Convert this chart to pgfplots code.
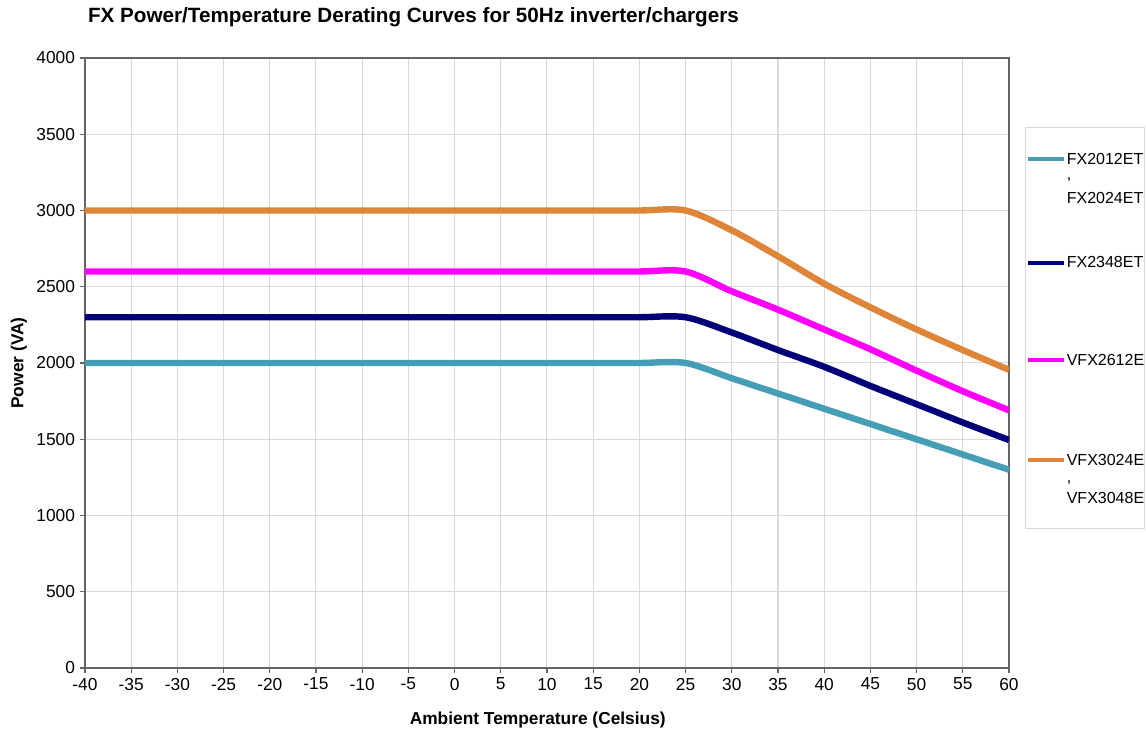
\documentclass[border=0pt]{standalone}
\usepackage{pgfplots}
\pgfplotsset{compat=1.18}
\usepackage{fontspec}
\setmainfont{Liberation Sans}

\definecolor{cteal}{RGB}{70,158,182}
\definecolor{cnavy}{RGB}{0,0,120}
\definecolor{cmag}{RGB}{255,0,255}
\definecolor{corange}{RGB}{222,133,58}
\definecolor{cgrid}{RGB}{217,217,217}
\definecolor{caxis}{RGB}{100,100,100}

\begin{document}
\begin{tikzpicture}
% page = 1146 x 738 px at 0.75pt/px, plot area at (85,58)-(1009,668)
\useasboundingbox (-63.75pt,-52.5pt) rectangle (795.75pt,501pt);
\begin{axis}[
  scale only axis,
  width=693pt, height=457.5pt,
  xmin=-40, xmax=60, ymin=0, ymax=4000,
  xtick={-40,-35,...,60}, ytick={0,500,...,4000},
  grid=major, major grid style={cgrid, line width=0.75pt},
  axis line style={caxis, line width=0.9pt},
  tick style={caxis, line width=0.9pt},
  tick align=outside, major tick length=4pt,
  xtick pos=bottom, ytick pos=left,
  /pgf/number format/assume math mode=true,
  /pgf/number format/1000 sep={},
  ticklabel style={font=\fontsize{13}{15}\selectfont},
  title={FX Power/Temperature Derating Curves for 50Hz inverter/chargers},
  title style={font=\fontsize{15.5}{18}\selectfont\bfseries, at={(axis description cs:0.003,1.0443)}, anchor=base west, inner sep=0pt},
  xlabel={Ambient Temperature (Celsius)},
  xlabel style={font=\fontsize{13}{15}\selectfont\bfseries, at={(axis description cs:0.49,-0.085)}, anchor=center},
  ylabel={Power (VA)},
  ylabel style={font=\fontsize{13}{15}\selectfont\bfseries, at={(axis description cs:-0.0715,0.5)}, anchor=center, rotate=0},
  every axis plot/.append style={line width=4.8pt, smooth, tension=0.5},
  legend image code/.code={\draw[#1, line width=3pt] (0pt,3.75pt) -- (27pt,3.75pt);},
  legend style={at={(axis description cs:1.0173,0.8869)}, anchor=north west,
    draw=cgrid, line width=0.75pt, fill=white,
    inner xsep=0.5pt, inner ysep=0pt, column sep=0.5pt, row sep=0pt,
    cells={anchor=base west},
    nodes={inner sep=0pt, text depth=},
    font=\fontsize{12}{14}\selectfont},
]
\addplot[cteal] coordinates {(-40,2000) (-35,2000) (-30,2000) (-25,2000) (-20,2000) (-15,2000) (-10,2000) (-5,2000) (0,2000) (5,2000) (10,2000) (15,2000) (20,2000) (25,2000) (30,1900) (35,1800) (40,1700) (45,1600) (50,1500) (55,1400) (60,1300)};
\addlegendentry{\rule{0pt}{27.75pt}FX2012ET}
\addlegendimage{empty legend}
\addlegendentry{\rule{0pt}{11.25pt},}
\addlegendimage{empty legend}
\addlegendentry{\rule{0pt}{16.5pt}FX2024ET}
\addplot[cnavy] coordinates {(-40,2300) (-35,2300) (-30,2300) (-25,2300) (-20,2300) (-15,2300) (-10,2300) (-5,2300) (0,2300) (5,2300) (10,2300) (15,2300) (20,2300) (25,2300) (30,2200) (35,2085) (40,1975) (45,1850) (50,1730) (55,1610) (60,1495)};
\addlegendentry{\rule{0pt}{48pt}FX2348ET}
\addplot[cmag] coordinates {(-40,2600) (-35,2600) (-30,2600) (-25,2600) (-20,2600) (-15,2600) (-10,2600) (-5,2600) (0,2600) (5,2600) (10,2600) (15,2600) (20,2600) (25,2600) (30,2470) (35,2350) (40,2220) (45,2090) (50,1950) (55,1815) (60,1690)};
\addlegendentry{\rule{0pt}{72.75pt}VFX2612E}
\addplot[corange] coordinates {(-40,3000) (-35,3000) (-30,3000) (-25,3000) (-20,3000) (-15,3000) (-10,3000) (-5,3000) (0,3000) (5,3000) (10,3000) (15,3000) (20,3000) (25,3000) (30,2870) (35,2700) (40,2520) (45,2365) (50,2220) (55,2085) (60,1955)};
\addlegendentry{\rule{0pt}{75pt}VFX3024E}
\addlegendimage{empty legend}
\addlegendentry{\rule{0pt}{12.75pt},}
\addlegendimage{empty legend}
\addlegendentry{\rule[-18.75pt]{0pt}{33pt}VFX3048E}
\end{axis}
\end{tikzpicture}
\end{document}
